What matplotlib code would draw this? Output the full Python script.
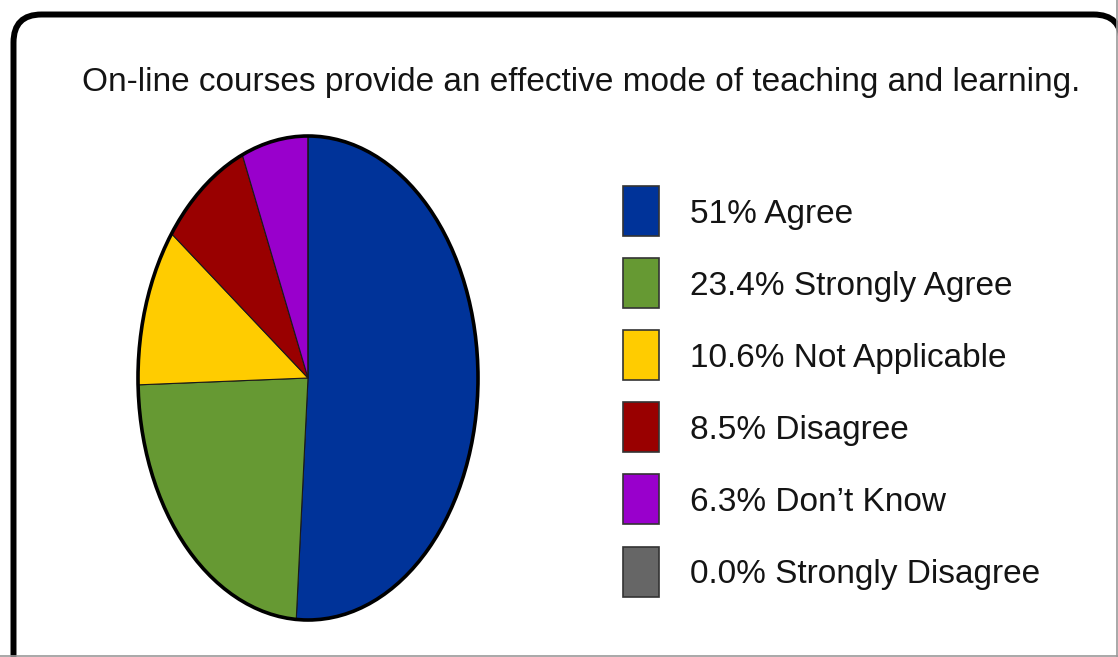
import matplotlib
matplotlib.use("Agg")
import matplotlib.pyplot as plt
from matplotlib.patches import Ellipse, Rectangle, FancyBboxPatch

# ---- data -------------------------------------------------------------
title = "On-line courses provide an effective mode of teaching and learning."
labels = ["Agree", "Strongly Agree", "Not Applicable", "Disagree",
          "Don\u2019t Know", "Strongly Disagree"]
shares = [51.0, 23.4, 10.6, 8.5, 6.3, 0.0]
share_text = ["51%", "23.4%", "10.6%", "8.5%", "6.3%", "0.0%"]
colors = ["#003399", "#669933", "#FFCC00", "#990000", "#9900CC", "#666666"]

plt.rcParams['font.family'] = ['Liberation Sans', 'DejaVu Sans']

W, H = 1118, 657
fig = plt.figure(figsize=(W / 100, H / 100), dpi=100)

# background axes in pixel units (y down) for frame, title and legend
bg = fig.add_axes([0, 0, 1, 1])
bg.set_xlim(0, W)
bg.set_ylim(H, 0)
bg.axis('off')

# rounded panel, right and bottom sides run off the picture
frame = FancyBboxPatch((13.5, 14.5), 1108, 720,
                       boxstyle="round,pad=0,rounding_size=28",
                       fc='white', ec='black', lw=4.3)
bg.add_patch(frame)
# thin grey edge of the cropped screenshot
bg.axvline(1116.5, color='#9a9a9a', lw=1.2)
bg.axhline(655.5, color='#9a9a9a', lw=1.2)

bg.text(581, 91, title, ha='center', va='baseline', fontsize=24, color='#141414')

# legend
row0, step = 210.5, 72.2
for i, (lab, txt, col) in enumerate(zip(labels, share_text, colors)):
    yc = row0 + i * step
    bg.add_patch(Rectangle((623, yc - 25), 36, 50, fc=col, ec='#333333', lw=1.2))
    bg.text(690, yc + 12, f"{txt} {lab}", ha='left', va='baseline',
            fontsize=24, color='#141414')

# ---- pie (stretched vertically) --------------------------------------
ax = fig.add_axes([138 / W, (H - 620) / H, 340 / W, 484 / H])
ax.pie(shares, colors=colors, startangle=90, counterclock=False,
       wedgeprops=dict(edgecolor='#1a1a1a', linewidth=0.8))
ax.set_aspect('auto')
ax.set_xlim(-1, 1)
ax.set_ylim(-1, 1)
ax.add_patch(Ellipse((0, 0), 2, 2, fill=False, ec='black', lw=2.6, clip_on=False))
ax.axis('off')

fig.savefig("out.png", dpi=100)
